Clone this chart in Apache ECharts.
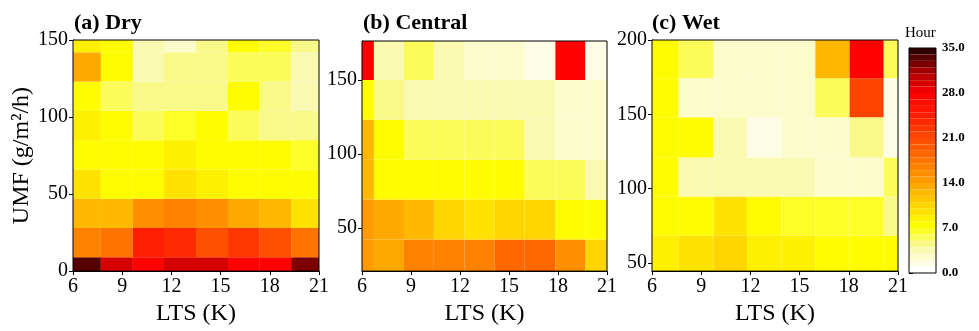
<!DOCTYPE html>
<html>
<head>
<meta charset="utf-8">
<script src="https://cdn.jsdelivr.net/npm/echarts@6/dist/echarts.min.js"></script>
<style>
html, body { margin: 0; padding: 0; background: #fff; }
#chart { width: 979px; height: 331px; }
</style>
</head>
<body>
<div id="chart"></div>
<script>
// bin edges (LTS in K, UMF in g/m2/h)
var dryX = [6, 7.7, 9.65, 11.55, 13.5, 15.45, 17.35, 19.3, 21];
var dryY = [0, 9, 28, 47, 66, 85, 104, 123, 142, 150];
var centralX = [6, 6.73, 8.57, 10.4, 12.28, 14.12, 15.96, 17.84, 19.68, 21];
var centralY = [20.7, 42, 69.1, 96, 123.1, 150, 176.4];
var wetX = [6, 7.63, 9.76, 11.79, 13.89, 15.96, 18.05, 20.13, 21];
var wetY = [44.5, 68.4, 94.7, 121, 148, 174.3, 200];

// hours, rows from bottom to top
var dryValues = [
    [33.5, 29.5, 28, 29.3, 29.2, 27.5, 28, 32.6],
    [16.5, 18, 24.5, 23.7, 20.5, 22.5, 20.5, 17.2],
    [12.5, 12.5, 15.7, 16.6, 16, 13.3, 12.7, 9.5],
    [9.5, 8, 8, 10, 9, 8, 7.5, 7.5],
    [7.5, 7.5, 7.5, 9, 7.5, 7.5, 7.5, 6.5],
    [9, 7.5, 6, 6.5, 7.5, 6, 5, 5],
    [7.5, 6, 5, 5, 5, 7.5, 5, 4],
    [14, 7.5, 3.5, 5, 5, 6, 6, 4],
    [9, 7.5, 4, 2.5, 5, 7.5, 6.5, 5]
];
var centralValues = [
    [14.3, 13.2, 16.6, 16.6, 16.6, 19, 19, 15.8, 10.2],
    [14.3, 13.2, 12.2, 11, 9.8, 11, 10.5, 7.5, 7.5],
    [12.5, 8, 7.5, 7.5, 7.5, 7.5, 5.5, 5.5, 4],
    [13, 7.5, 5.5, 5.5, 5.5, 5.5, 4, 2.5, 2.5],
    [7.5, 5, 4, 4, 4, 4, 4, 2.5, 2.5],
    [27.5, 3.5, 5.5, 3.5, 2.5, 2.5, 1.5, 27.5, 2]
];
var wetValues = [
    [8.5, 9.5, 10.5, 8.5, 9, 8, 7.5, 7.5],
    [8, 8, 9.5, 8, 6.5, 6.5, 6.5, 5],
    [7.5, 4, 4, 4, 4, 2.5, 2.5, 5.5],
    [7.5, 8, 3.5, 2, 3, 3, 4.5, 1.5],
    [7.5, 2.5, 2.5, 2.5, 2.5, 5.5, 22, 2],
    [7.5, 5.5, 2.5, 2.5, 2.5, 12.5, 27.5, 6]
];

var titles = ['(a) Dry', '(b) Central', '(c) Wet'];
var cmap = ['#FFFFFF', '#F8F8A8', '#FFFF00', '#FFD200', '#FFA000', '#FF7400',
            '#FF4A00', '#FF2000', '#FF0000', '#B00000', '#300000'];

var font = 'Liberation Serif';

function cells(xe, ye, vals) {
    var out = [];
    for (var r = 0; r < vals.length; r++) {
        for (var c = 0; c < vals[r].length; c++) {
            out.push([xe[c], xe[c + 1], ye[r], ye[r + 1], vals[r][c]]);
        }
    }
    return out;
}

function renderCell(params, api) {
    var p0 = api.coord([api.value(0), api.value(2)]);
    var p1 = api.coord([api.value(1), api.value(3)]);
    return {
        type: 'rect',
        shape: { x: p0[0], y: p1[1], width: p1[0] - p0[0], height: p0[1] - p1[1] },
        style: { fill: api.visual('color') }
    };
}

function xAxisFor(i) {
    return {
        type: 'value', gridIndex: i, min: 6, max: 21, interval: 3,
        name: 'LTS (K)', nameLocation: 'middle', nameGap: 30,
        nameTextStyle: { fontFamily: font, fontSize: 24, color: '#000' },
        axisLine: { lineStyle: { color: '#000' } },
        axisTick: { length: 4, lineStyle: { color: '#000' } },
        axisLabel: { fontFamily: font, fontSize: 20, color: '#000', margin: 6 },
        splitLine: { show: false }
    };
}

function yAxisFor(i, min, max, ticks) {
    return {
        type: 'value', gridIndex: i, min: min, max: max,
        axisLine: { lineStyle: { color: '#000' } },
        axisTick: { length: 4, lineStyle: { color: '#000' }, customValues: ticks },
        axisLabel: { fontFamily: font, fontSize: 20, color: '#000', margin: 5, customValues: ticks },
        splitLine: { show: false }
    };
}

var yA = yAxisFor(0, 0, 150, [0, 50, 100, 150]);
yA.name = 'UMF (g/m\u00B2/h)';
yA.nameLocation = 'middle';
yA.nameGap = 34;
yA.nameRotate = 90;
yA.nameTextStyle = { fontFamily: font, fontSize: 24, color: '#000' };

var myChart = echarts.init(document.getElementById('chart'));
myChart.setOption({
    backgroundColor: '#fff',
    animation: false,
    title: [
        { text: titles[0], left: 74, top: 12, padding: 0, textStyle: { fontFamily: font, fontSize: 22, fontWeight: 'bold', color: '#000' } },
        { text: titles[1], left: 363, top: 12, padding: 0, textStyle: { fontFamily: font, fontSize: 22, fontWeight: 'bold', color: '#000' } },
        { text: titles[2], left: 652, top: 12, padding: 0, textStyle: { fontFamily: font, fontSize: 22, fontWeight: 'bold', color: '#000' } },
        { text: 'Hour', left: 905, top: 26, padding: 0, textStyle: { fontFamily: font, fontSize: 15, fontWeight: 'normal', color: '#000' } }
    ],
    grid: [
        { left: 73, top: 40, width: 246, height: 237, show: true, z: 5, borderColor: '#000', borderWidth: 1, backgroundColor: 'transparent' },
        { left: 362, top: 41, width: 245, height: 236, show: true, z: 5, borderColor: '#000', borderWidth: 1, backgroundColor: 'transparent' },
        { left: 652, top: 40, width: 246, height: 237, show: true, z: 5, borderColor: '#000', borderWidth: 1, backgroundColor: 'transparent' },
        { left: 909, top: 48, width: 27, height: 225, show: true, z: 10, borderColor: '#000', borderWidth: 1, backgroundColor: 'transparent' }
    ],
    xAxis: [
        xAxisFor(0), xAxisFor(1), xAxisFor(2),
        { type: 'value', gridIndex: 3, show: false, min: 0, max: 1 }
    ],
    yAxis: [
        yA,
        yAxisFor(1, 20.7, 176.4, [50, 100, 150]),
        yAxisFor(2, 44.5, 200, [50, 100, 150, 200]),
        {
            type: 'value', gridIndex: 3, min: 0, max: 35, interval: 7, position: 'right',
            axisLine: { lineStyle: { color: '#000' } },
            axisTick: { length: 4, lineStyle: { color: '#000' } },
            axisLabel: {
                fontFamily: font, fontSize: 13, fontWeight: 'bold', color: '#000', margin: 6,
                formatter: function (v) { return v.toFixed(1); }
            },
            splitLine: { show: false }
        }
    ],
    visualMap: {
        type: 'piecewise',
        min: 0, max: 35, splitNumber: 35,
        seriesIndex: [0, 1, 2], dimension: 4,
        orient: 'vertical', left: 909, top: 48,
        itemWidth: 27, itemHeight: 225 / 35, itemGap: 0, padding: 0,
        itemSymbol: 'rect', showLabel: false, hoverLink: false,
        inRange: { color: cmap }
    },
    series: [
        { type: 'custom', xAxisIndex: 0, yAxisIndex: 0, renderItem: renderCell, clip: true, encode: { x: [0, 1], y: [2, 3] }, data: cells(dryX, dryY, dryValues) },
        { type: 'custom', xAxisIndex: 1, yAxisIndex: 1, renderItem: renderCell, clip: true, encode: { x: [0, 1], y: [2, 3] }, data: cells(centralX, centralY, centralValues) },
        { type: 'custom', xAxisIndex: 2, yAxisIndex: 2, renderItem: renderCell, clip: true, encode: { x: [0, 1], y: [2, 3] }, data: cells(wetX, wetY, wetValues) }
    ]
});
</script>
</body>
</html>
